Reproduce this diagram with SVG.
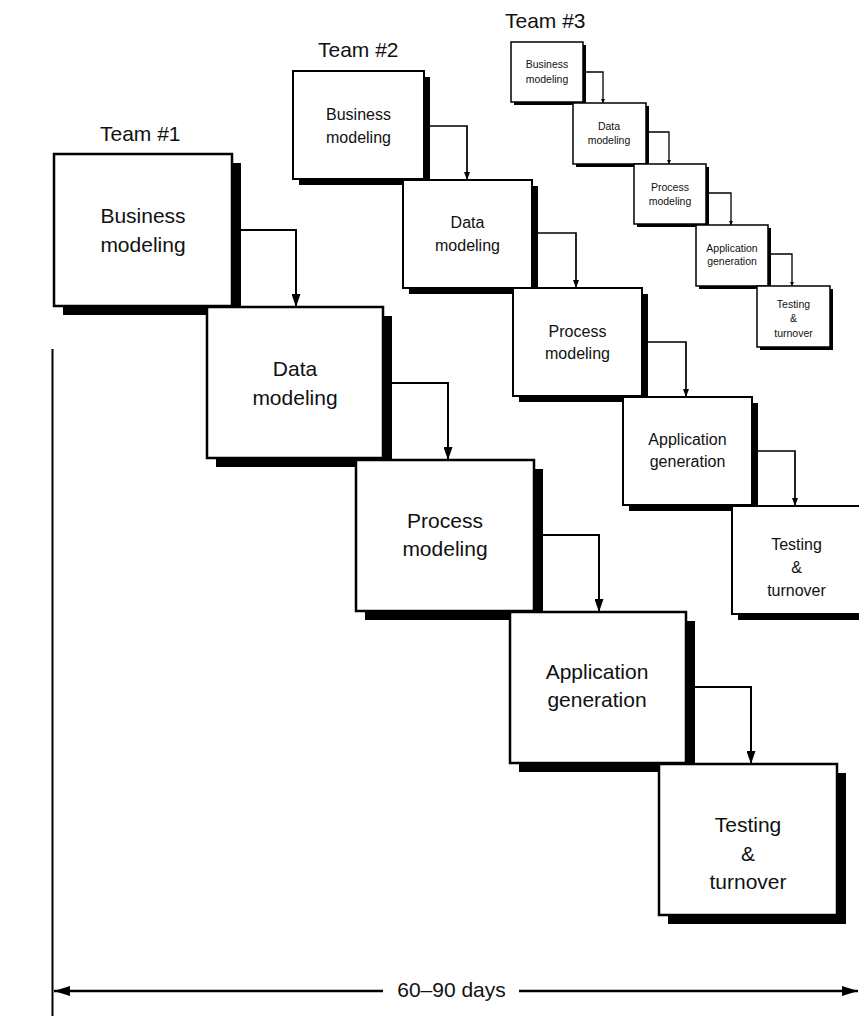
<svg xmlns="http://www.w3.org/2000/svg" width="859" height="1016" viewBox="0 0 859 1016">
<style>
text{font-family:"Liberation Sans","DejaVu Sans",Arial,sans-serif;fill:#111;text-anchor:middle}
.t1{font-size:21px}
.t2{font-size:16px}
.t3{font-size:10.5px}
.lbl{font-size:21px;text-anchor:start}
.sh{fill:#000}
.b1{fill:#fff;stroke:#000;stroke-width:2.5}
.b2{fill:#fff;stroke:#000;stroke-width:2}
.b3{fill:#fff;stroke:#000;stroke-width:1.5}
.c1{fill:none;stroke:#000;stroke-width:2;marker-end:url(#a1)}
.c2{fill:none;stroke:#000;stroke-width:1.7;marker-end:url(#a2)}
.c3{fill:none;stroke:#000;stroke-width:1.3;marker-end:url(#a3)}
.ax{fill:none;stroke:#000;stroke-width:2.5}
</style>
<defs>
<marker id="a1" viewBox="0 0 13 9" refX="13" refY="4.5" markerWidth="13" markerHeight="9" markerUnits="userSpaceOnUse" orient="auto"><path d="M0,0 L13,4.5 L0,9 z"/></marker>
<marker id="a2" viewBox="0 0 8 6" refX="8" refY="3" markerWidth="8" markerHeight="6" markerUnits="userSpaceOnUse" orient="auto"><path d="M0,0 L8,3 L0,6 z"/></marker>
<marker id="a3" viewBox="0 0 4 4" refX="4" refY="2" markerWidth="4" markerHeight="4" markerUnits="userSpaceOnUse" orient="auto"><path d="M0,0 L4,2 L0,4 z"/></marker>
<marker id="ax" viewBox="0 0 16 10" refX="16" refY="5" markerWidth="16" markerHeight="10" markerUnits="userSpaceOnUse" orient="auto-start-reverse"><path d="M0,0 L16,5 L0,10 z"/></marker>
</defs>

<text class="lbl" x="100" y="141">Team #1</text>
<text class="lbl" x="318" y="57">Team #2</text>
<text class="lbl" x="505" y="28">Team #3</text>

<!-- Team 3 -->
<g id="t3-business"><rect class="sh" x="514" y="45" width="72" height="60"/><rect class="b3" x="511" y="42" width="72" height="60"/><text class="t3" x="547" y="68">Business</text><text class="t3" x="547" y="83">modeling</text></g>
<g id="t3-data"><rect class="sh" x="576" y="106" width="73" height="61"/><rect class="b3" x="573" y="103" width="73" height="61"/><text class="t3" x="609" y="130">Data</text><text class="t3" x="609" y="144">modeling</text></g>
<g id="t3-process"><rect class="sh" x="637" y="167" width="72" height="60"/><rect class="b3" x="634" y="164" width="72" height="60"/><text class="t3" x="670" y="191">Process</text><text class="t3" x="670" y="205">modeling</text></g>
<g id="t3-application"><rect class="sh" x="699" y="228" width="72" height="61"/><rect class="b3" x="696" y="225" width="72" height="61"/><text class="t3" x="732" y="252">Application</text><text class="t3" x="732" y="265">generation</text></g>
<g id="t3-testing"><rect class="sh" x="760" y="289" width="73" height="61"/><rect class="b3" x="757" y="286" width="73" height="61"/><text class="t3" x="793.5" y="308">Testing</text><text class="t3" x="793.5" y="322">&amp;</text><text class="t3" x="793.5" y="337">turnover</text></g>

<!-- Team 2 -->
<g id="t2-business"><rect class="sh" x="299" y="77" width="131" height="108"/><rect class="b2" x="293" y="71" width="131" height="108"/><text class="t2" x="358.5" y="120">Business</text><text class="t2" x="358.5" y="143">modeling</text></g>
<g id="t2-data"><rect class="sh" x="409" y="186" width="129" height="108"/><rect class="b2" x="403" y="180" width="129" height="108"/><text class="t2" x="467.5" y="228">Data</text><text class="t2" x="467.5" y="251">modeling</text></g>
<g id="t2-process"><rect class="sh" x="519" y="294" width="129" height="108"/><rect class="b2" x="513" y="288" width="129" height="108"/><text class="t2" x="577.5" y="337">Process</text><text class="t2" x="577.5" y="359">modeling</text></g>
<g id="t2-application"><rect class="sh" x="629" y="403" width="129" height="108"/><rect class="b2" x="623" y="397" width="129" height="108"/><text class="t2" x="687.5" y="445">Application</text><text class="t2" x="687.5" y="467">generation</text></g>
<g id="t2-testing"><rect class="sh" x="738" y="512" width="129" height="108"/><rect class="b2" x="732" y="506" width="129" height="108"/><text class="t2" x="796.5" y="550">Testing</text><text class="t2" x="796.5" y="573">&amp;</text><text class="t2" x="796.5" y="596">turnover</text></g>

<!-- Team 1 -->
<g id="t1-business"><rect class="sh" x="63" y="163" width="178" height="152"/><rect class="b1" x="54" y="154" width="178" height="152"/><text class="t1" x="143" y="223">Business</text><text class="t1" x="143" y="252">modeling</text></g>
<g id="t1-data"><rect class="sh" x="216" y="316" width="176" height="151"/><rect class="b1" x="207" y="307" width="176" height="151"/><text class="t1" x="295" y="376">Data</text><text class="t1" x="295" y="405">modeling</text></g>
<g id="t1-process"><rect class="sh" x="365" y="469" width="178" height="151"/><rect class="b1" x="356" y="460" width="178" height="151"/><text class="t1" x="445" y="528">Process</text><text class="t1" x="445" y="556">modeling</text></g>
<g id="t1-application"><rect class="sh" x="519" y="621" width="176" height="151"/><rect class="b1" x="510" y="612" width="176" height="151"/><text class="t1" x="597" y="679">Application</text><text class="t1" x="597" y="707">generation</text></g>
<g id="t1-testing"><rect class="sh" x="668" y="773" width="178" height="151"/><rect class="b1" x="659" y="764" width="178" height="151"/><text class="t1" x="748" y="832">Testing</text><text class="t1" x="748" y="861">&amp;</text><text class="t1" x="748" y="889">turnover</text></g>

<g id="connectors">
<path class="c1" d="M241,230 H296 V307"/>
<path class="c1" d="M392,383 H448 V460"/>
<path class="c1" d="M543,535 H599 V612"/>
<path class="c1" d="M695,687 H751 V764"/>
<path class="c2" d="M430,126 H467 V180"/>
<path class="c2" d="M538,233 H576 V288"/>
<path class="c2" d="M648,342 H686 V397"/>
<path class="c2" d="M758,451 H795 V506"/>
<path class="c3" d="M586,72 H603 V103"/>
<path class="c3" d="M649,132 H669 V164"/>
<path class="c3" d="M709,193 H731 V225"/>
<path class="c3" d="M771,254 H792 V286"/>
</g>

<g id="axis">
<line x1="52.5" y1="349" x2="52.5" y2="1016" stroke="#000" stroke-width="2"/>
<line class="ax" x1="383" y1="991" x2="54" y2="991" marker-end="url(#ax)"/>
<line class="ax" x1="519" y1="991" x2="858" y2="991" marker-end="url(#ax)"/>
<text class="t1" x="451.5" y="997">60–90 days</text>
</g>
</svg>
